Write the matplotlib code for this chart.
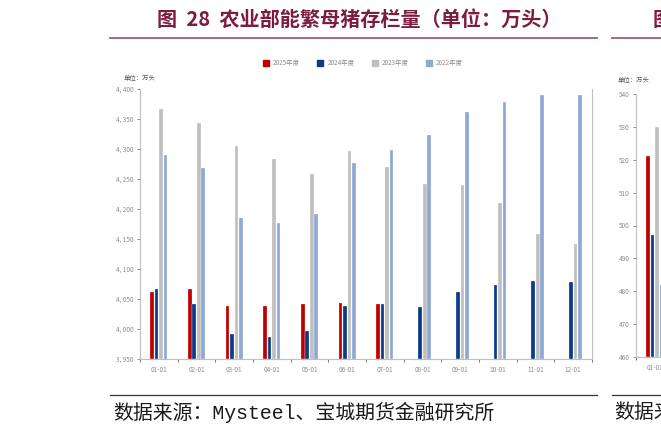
import numpy as np
import matplotlib.pyplot as plt
from matplotlib.lines import Line2D

plt.rcParams['font.family'] = ['Noto Sans CJK SC', 'DejaVu Sans']

months = ['01-01', '02-01', '03-01', '04-01', '05-01', '06-01',
          '07-01', '08-01', '09-01', '10-01', '11-01', '12-01']
y2025 = [4062, 4066, 4039, 4038, 4042, 4043, 4042]
y2024 = [4067, 4042, 3992, 3986, 3996, 4038, 4041, 4036, 4062, 4073, 4080, 4078]
y2023 = [4367, 4343, 4305, 4284, 4258, 4296, 4270, 4241, 4240, 4210, 4158, 4142]
y2022 = [4290, 4268, 4185, 4177, 4192, 4277, 4298, 4324, 4362, 4379, 4390, 4390]
series_names = ['2025年度', '2024年度', '2023年度', '2022年度']

# the next chart, cut off at the right edge of the page
right_months = ['01-01']
right_2025 = [521]
right_2024 = [497]
right_2023 = [530]
right_2022 = [482]

colors = ['#C00000', '#0A3A8A', '#BFBFBF', '#8EA9D3']
maroon = '#7B1C40'
axis_grey = '#BFBFBF'
tick_grey = '#8C8C8C'

W, H = 661, 432
fig = plt.figure(figsize=(W / 100, H / 100), dpi=100)


def px(x0, y0, x1, y1):
    # pixel box -> figure fraction rect
    return [x0 / W, 1 - y1 / H, (x1 - x0) / W, (y1 - y0) / H]


def bar_panel(ax, data, labels, ylo, yhi, step, fmt):
    x = np.arange(12)
    offs = [-1.5, -0.5, 0.5, 1.5]
    for vals, c, o in zip(data, colors, offs):
        ax.bar(x[:len(vals)] + o * 0.12, np.array(vals) - ylo, bottom=ylo,
               width=0.095, color=c, edgecolor='white', linewidth=0.2)
    ax.set_xlim(-0.5, 11.5)
    ax.set_ylim(ylo, yhi)
    ax.set_yticks(np.arange(ylo, yhi + 1, step))
    ax.set_yticklabels([fmt(v) for v in np.arange(ylo, yhi + 1, step)])
    ax.set_xticks(x[:len(labels)])
    ax.set_xticklabels(labels)
    ax.set_xticks(np.arange(-0.5, 12, 1), minor=True)
    ax.tick_params(axis='x', which='major', length=0, pad=5,
                   labelsize=4.6, labelcolor=tick_grey)
    ax.tick_params(axis='x', which='minor', length=2.5, width=0.6,
                   color='#595959', direction='out')
    ax.tick_params(axis='y', length=2.5, width=0.6, color='#7F7F7F',
                   labelsize=4.6, labelcolor=tick_grey, pad=2)
    ax.spines['top'].set_visible(False)
    for s in ['left', 'right', 'bottom']:
        ax.spines[s].set_color(axis_grey)
        ax.spines[s].set_linewidth(0.8)
    ax.set_facecolor('white')


ax = fig.add_axes(px(140, 89, 592, 359))
bar_panel(ax, [y2025, y2024, y2023, y2022], months, 3950, 4400, 50,
          lambda v: f'{v:,}'.replace(',', ', '))

ax2 = fig.add_axes(px(636, 94, 1088, 357))
bar_panel(ax2, [right_2025, right_2024, right_2023, right_2022], right_months,
          460, 540, 10, lambda v: str(v))
ax2.spines['right'].set_visible(False)

# legend
handles = [Line2D([], [], marker='s', linestyle='none', markersize=4.5,
                  markerfacecolor=c, markeredgecolor=c) for c in colors]
fig.legend(handles, series_names, loc='center', ncol=4,
           bbox_to_anchor=(363 / W, 1 - 63 / H), frameon=False,
           fontsize=4.6, labelcolor=tick_grey, handletextpad=0.6,
           columnspacing=2.7, handlelength=1.0)

fig.text(124 / W, 1 - 78 / H, '单位：万头', fontsize=4.6, color='#595959',
         va='center', ha='left')
fig.text(618 / W, 1 - 80 / H, '单位：万头', fontsize=4.6, color='#595959',
         va='center', ha='left')

# title and rules
fig.text(359 / W, 1 - 19 / H, '图  28  农业部能繁母猪存栏量（单位：万头）',
         fontsize=14.5, fontweight='bold', color=maroon, ha='center',
         va='center')
fig.text(653 / W, 1 - 19 / H, '图', fontsize=14.5, fontweight='bold',
         color=maroon, ha='left', va='center')
for x0, x1 in [(110, 597), (612, 700)]:
    fig.add_artist(Line2D([x0 / W, x1 / W], [1 - 38 / H] * 2,
                          color='#A35A78', linewidth=1.3))
    fig.add_artist(Line2D([x0 / W, x1 / W], [1 - 395 / H] * 2,
                          color='#6B1A36', linewidth=0.9))

src = '数据来源：Mysteel、宝城期货金融研究所'
fig.text(113 / W, 1 - 412 / H, src, fontsize=14.3, color='#1A1A1A',
         family=['Liberation Mono', 'Noto Sans CJK SC'], ha='left',
         va='center')
fig.text(614 / W, 1 - 412 / H, '数据来', fontsize=14.3, color='#1A1A1A',
         ha='left', va='center')

fig.savefig('out.png', dpi=100)
